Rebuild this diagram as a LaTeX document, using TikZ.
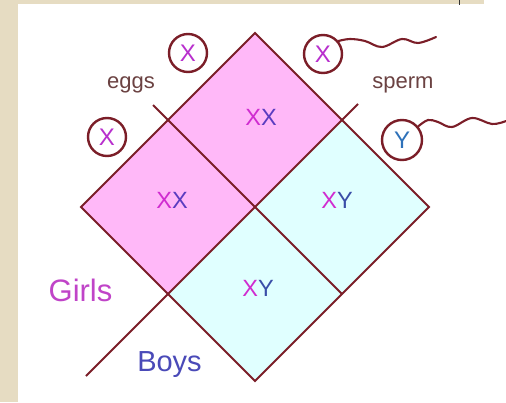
\documentclass[tikz,border=0pt]{standalone}
\usepackage{fontspec}
\setmainfont{Liberation Sans}
\definecolor{beige}{HTML}{E6DCC2}
\definecolor{pinkcell}{HTML}{FFB8F8}
\definecolor{cyancell}{HTML}{E0FFFF}
\definecolor{maroon}{HTML}{7B1E28}
\definecolor{mag}{HTML}{D02CD0}
\definecolor{violet}{HTML}{5A3CC0}
\definecolor{blu}{HTML}{3A4EA8}
\definecolor{labelc}{HTML}{6B4242}
\definecolor{girlc}{HTML}{C044C8}
\definecolor{boyc}{HTML}{4A4AB8}
\tikzset{
  gridline/.style={draw=maroon, line width=2.1pt},
  gamete/.style={circle, draw=maroon, line width=2.4pt, minimum size=38pt, inner sep=0pt, font=\fontsize{24}{24}\selectfont},
  tailc/.style={draw=maroon, line width=2.1pt, line cap=round},
  celltext/.style={font=\fontsize{23.5}{23.5}\selectfont, inner sep=0pt},
  smalllabel/.style={font=\fontsize{22}{22}\selectfont, text=labelc, inner sep=0pt},
  biglabel/.style={inner sep=0pt}
}
\begin{document}
\begin{tikzpicture}[x=1pt, y=-1pt]
\useasboundingbox (0,0) rectangle (506,402);
\fill[white] (0,0) rectangle (506,402);
\fill[beige] (0,0) rectangle (18,402);
\fill[beige] (0,0) rectangle (484,3.5);
\draw[black!80, line width=1pt] (459,0) -- (459,5);
% diamond vertices
\coordinate (T) at (255,33);
\coordinate (R) at (429,207);
\coordinate (B) at (255,381);
\coordinate (L) at (81,207);
\coordinate (C) at (255,207);
\coordinate (UL) at (168,120);
\coordinate (UR) at (342,120);
\coordinate (LL) at (168,294);
\coordinate (LR) at (342,294);
\coordinate (ULx) at (153,105);
\coordinate (URx) at (358,104);
\coordinate (LLx) at (86,376);
% cells
\fill[pinkcell] (T) -- (UR) -- (C) -- (UL) -- cycle;
\fill[pinkcell] (UL) -- (C) -- (LL) -- (L) -- cycle;
\fill[cyancell] (UR) -- (R) -- (LR) -- (C) -- cycle;
\fill[cyancell] (C) -- (LR) -- (B) -- (LL) -- cycle;
% grid lines
\draw[gridline, line join=miter] (T) -- (R) -- (B) -- (L) -- cycle;
\draw[gridline] (ULx) -- (LR);
\draw[gridline] (URx) -- (LLx);
% cell labels
\node[celltext] (c1) at (261,117) {\textcolor{mag}{X}\textcolor{violet}{X}};
\node[celltext] (c2) at (172,200) {\textcolor{mag}{X}\textcolor{violet}{X}};
\node[celltext] (c3) at (337,200) {\textcolor{mag}{X}\textcolor{blu}{Y}};
\node[celltext] (c4) at (258,288) {\textcolor{mag}{X}\textcolor{blu}{Y}};
% gametes
\node[gamete, text=mag!80!violet] (e1) at (188,53) {X};
\node[gamete, text=mag!80!violet] (e2) at (107,137) {X};
\node[gamete, text=mag!80!violet] (s1) at (323,54) {X};
\node[gamete, text=blu!80!cyan, minimum size=40pt] (s2) at (402,140) {Y};
\coordinate (t1) at (436,37);
\coordinate (t2) at (506,121);
\draw[tailc] plot[smooth, tension=0.6] coordinates {(s1.40) (350,39) (365,41) (382,47) (402,39) (418,43) (t1)};
\draw[tailc] plot[smooth, tension=0.6] coordinates {(s2.40) (428,120) (438,122) (452,127) (472,118) (492,124) (t2)};
% labels
\node[smalllabel] (eggs) at (131,85) {eggs};
\node[smalllabel] (sperm) at (403,85) {sperm};
\node[biglabel, text=girlc, font=\fontsize{31}{31}\selectfont] (girls) at (80.5,290) {Girls};
\node[biglabel, text=boyc, font=\fontsize{29}{29}\selectfont] (boys) at (169.5,365) {Boys};
\end{tikzpicture}
\end{document}
